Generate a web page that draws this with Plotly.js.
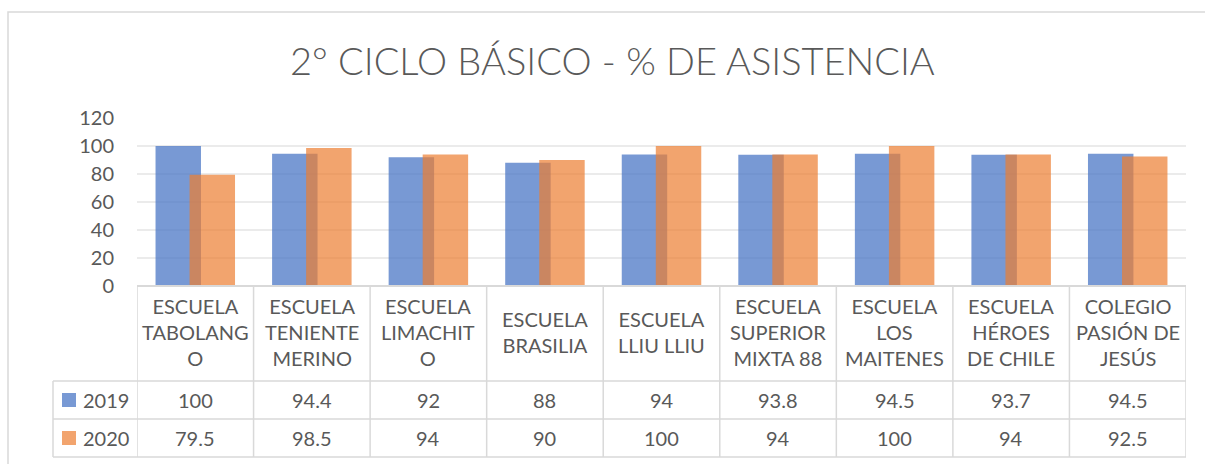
<!DOCTYPE html>
<html>
<head>
<meta charset="utf-8">
<script src="https://cdn.plot.ly/plotly-3.0.1.min.js"></script>
<style>
  html, body { margin: 0; padding: 0; background: #ffffff; }
  #grafico { width: 1205px; height: 464px; }
</style>
</head>
<body>
<div id="grafico"></div>
<script>
// etiquetas de las escuelas, tal como salen cortadas en la tabla
var escuelas = [
  'ESCUELA<br>TABOLANG<br>O',
  'ESCUELA<br>TENIENTE<br>MERINO',
  'ESCUELA<br>LIMACHIT<br>O',
  'ESCUELA<br>BRASILIA',
  'ESCUELA<br>LLIU LLIU',
  'ESCUELA<br>SUPERIOR<br>MIXTA 88',
  'ESCUELA<br>LOS<br>MAITENES',
  'ESCUELA<br>HÉROES<br>DE CHILE',
  'COLEGIO<br>PASIÓN DE<br>JESÚS'
];
var series = ['2019', '2020'];
var asistencia2019 = [100, 94.4, 92, 88, 94, 93.8, 94.5, 93.7, 94.5];
var asistencia2020 = [79.5, 98.5, 94, 90, 100, 94, 100, 94, 92.5];
var colores = ['rgba(68,114,196,0.72)', 'rgba(237,125,49,0.7)'];

// medidas del area de graficos en pixeles
var izq = 137, der = 1186, arriba = 118, abajo = 286;
function px(p) { return (p - izq) / (der - izq); }
function py(p) { return (abajo - p) / (abajo - arriba); }

var gris = '#595959';
var fuente = 'Lato, "Open Sans", sans-serif';
var lineaTabla = '#d9d9d9';

var idx = escuelas.map(function (e, i) { return i; });

var data = [
  {
    x: idx, y: asistencia2019, type: 'bar', name: series[0],
    width: 0.39, offset: -0.341,
    marker: { color: colores[0] },
    hoverinfo: 'y'
  },
  {
    x: idx, y: asistencia2020, type: 'bar', name: series[1],
    width: 0.39, offset: -0.049,
    marker: { color: colores[1] },
    hoverinfo: 'y'
  }
];

var anotaciones = [];
var formas = [];

// titulo
anotaciones.push({
  xref: 'paper', yref: 'paper', x: px(612), y: py(60),
  xanchor: 'center', yanchor: 'middle', showarrow: false,
  text: '2° CICLO BÁSICO - % DE ASISTENCIA',
  font: { family: fuente, size: 38, color: gris, weight: 300 }
});

// tabla de datos
var filas = [asistencia2019, asistencia2020];
var centrosFila = [400, 438];
escuelas.forEach(function (e, i) {
  anotaciones.push({
    xref: 'x', yref: 'paper', x: i, y: py(332),
    xanchor: 'center', yanchor: 'middle', showarrow: false,
    text: e, font: { family: fuente, size: 20, color: gris }
  });
  filas.forEach(function (fila, j) {
    anotaciones.push({
      xref: 'x', yref: 'paper', x: i, y: py(centrosFila[j]),
      xanchor: 'center', yanchor: 'middle', showarrow: false,
      text: String(fila[i]), font: { family: fuente, size: 20, color: gris }
    });
  });
});

// leyenda dentro de la tabla
series.forEach(function (s, j) {
  formas.push({
    type: 'rect', xref: 'paper', yref: 'paper',
    x0: px(62), x1: px(76), y0: py(centrosFila[j] - 7), y1: py(centrosFila[j] + 7),
    fillcolor: colores[j], line: { width: 0 }
  });
  anotaciones.push({
    xref: 'paper', yref: 'paper', x: px(81), y: py(centrosFila[j]),
    xanchor: 'left', yanchor: 'middle', showarrow: false,
    text: s, font: { family: fuente, size: 20, color: gris }
  });
});

// lineas de la tabla
for (var k = 0; k <= escuelas.length; k++) {
  formas.push({
    type: 'line', xref: 'x', yref: 'paper',
    x0: k - 0.5, x1: k - 0.5, y0: py(286), y1: py(457),
    line: { color: lineaTabla, width: 1.5 }
  });
}
formas.push({
  type: 'line', xref: 'paper', yref: 'paper',
  x0: px(53), x1: px(53), y0: py(381), y1: py(457),
  line: { color: lineaTabla, width: 1.5 }
});
formas.push({
  type: 'line', xref: 'paper', yref: 'paper',
  x0: 0, x1: 1, y0: 0, y1: 0,
  line: { color: lineaTabla, width: 2 }
});
[381, 419, 457].forEach(function (p) {
  formas.push({
    type: 'line', xref: 'paper', yref: 'paper',
    x0: px(53), x1: 1, y0: py(p), y1: py(p),
    line: { color: lineaTabla, width: 1.5 }
  });
});

// borde del grafico
formas.push({
  type: 'rect', xref: 'paper', yref: 'paper',
  x0: px(8), x1: px(1230), y0: py(12), y1: py(490),
  line: { color: '#d9d9d9', width: 1.5 }, fillcolor: 'rgba(0,0,0,0)'
});

var layout = {
  width: 1205,
  height: 464,
  margin: { l: izq, r: 1205 - der, t: arriba, b: 464 - abajo },
  paper_bgcolor: '#ffffff',
  plot_bgcolor: '#ffffff',
  barmode: 'overlay',
  showlegend: false,
  xaxis: {
    range: [-0.5, escuelas.length - 0.5],
    showticklabels: false,
    showgrid: false,
    zeroline: false,
    ticks: ''
  },
  yaxis: {
    range: [0, 120],
    dtick: 20,
    showgrid: true,
    gridcolor: '#ebebeb',
    gridwidth: 1.5,
    zeroline: false,
    ticks: '',
    ticklabelstandoff: 22,
    tickfont: { family: fuente, size: 20, color: gris }
  },
  annotations: anotaciones,
  shapes: formas
};

Plotly.newPlot('grafico', data, layout, { displayModeBar: false, staticPlot: true });
</script>
</body>
</html>
